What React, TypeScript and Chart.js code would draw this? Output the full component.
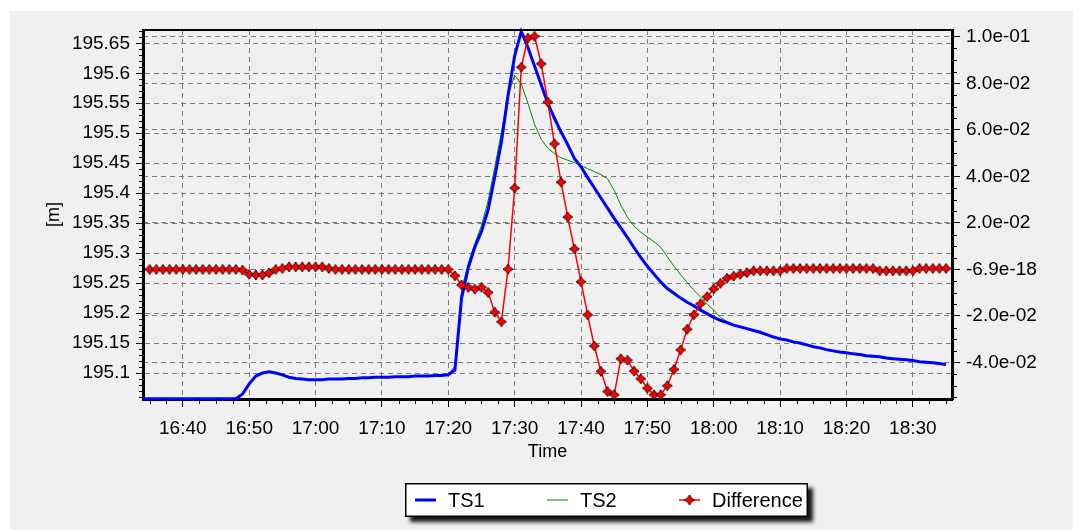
import React, { useEffect, useRef } from 'react';
import { Chart, registerables } from 'chart.js';

Chart.register(...registerables);

// x values are minutes after 16:00
const tsStartMinute = 34; // 16:34, one value per minute
const ts1Values = [
  195.057, 195.057, 195.057, 195.057, 195.057, 195.057, 195.057, 195.057, 195.057, 195.057,
  195.057, 195.057, 195.057, 195.057, 195.057, 195.065, 195.082, 195.095, 195.100, 195.102,
  195.100, 195.097, 195.093, 195.091, 195.090, 195.089, 195.089, 195.089, 195.090, 195.090,
  195.090, 195.091, 195.091, 195.092, 195.092, 195.093, 195.093, 195.093, 195.094, 195.094,
  195.094, 195.095, 195.095, 195.095, 195.096, 195.096, 195.097, 195.105, 195.225, 195.275,
  195.310, 195.336, 195.372, 195.427, 195.485, 195.563, 195.629, 195.670, 195.643, 195.612,
  195.581, 195.550, 195.525, 195.502, 195.481, 195.458, 195.444, 195.426, 195.409, 195.392,
  195.375, 195.358, 195.342, 195.326, 195.309, 195.293, 195.278, 195.265, 195.252, 195.241,
  195.233, 195.225, 195.218, 195.212, 195.205, 195.199, 195.193, 195.188, 195.184, 195.180,
  195.177, 195.174, 195.171, 195.168, 195.164, 195.160, 195.157, 195.155, 195.152, 195.150,
  195.147, 195.144, 195.142, 195.139, 195.137, 195.135, 195.134, 195.132, 195.131, 195.129,
  195.128, 195.127, 195.125, 195.124, 195.123, 195.122, 195.121, 195.119, 195.118, 195.117,
  195.116, 195.114,
];
const ts2Values = [
  195.057, 195.057, 195.057, 195.057, 195.057, 195.057, 195.057, 195.057, 195.057, 195.057,
  195.057, 195.057, 195.057, 195.057, 195.057, 195.066, 195.083, 195.096, 195.101, 195.102,
  195.100, 195.097, 195.093, 195.091, 195.090, 195.089, 195.089, 195.089, 195.090, 195.090,
  195.090, 195.091, 195.091, 195.092, 195.092, 195.093, 195.093, 195.093, 195.094, 195.094,
  195.094, 195.095, 195.095, 195.095, 195.096, 195.096, 195.097, 195.112, 195.238, 195.283,
  195.316, 195.346, 195.387, 195.443, 195.502, 195.562, 195.597, 195.582, 195.550, 195.515,
  195.490, 195.475, 195.466, 195.459, 195.455, 195.451, 195.446, 195.441, 195.436, 195.431,
  195.424, 195.405, 195.380, 195.360, 195.345, 195.335, 195.327, 195.319, 195.310, 195.294,
  195.278, 195.264, 195.251, 195.238, 195.227, 195.215, 195.205, 195.193, 195.186, 195.181,
  195.177, 195.173, 195.170, 195.167, 195.163, 195.159, 195.156, 195.154, 195.151, 195.149,
  195.146, 195.143, 195.141, 195.138, 195.136, 195.134, 195.133, 195.131, 195.130, 195.128,
  195.127, 195.126, 195.124, 195.123, 195.122, 195.121, 195.120, 195.118, 195.117, 195.116,
  195.115, 195.113,
];
const diffStartMinute = 35; // 16:35, one value per minute
const diffValues = [
  0, 0, 0, 0, 0, 0, 0, 0, 0, 0, 0, 0, 0, 0,
  -0.0003, -0.0021, -0.0024, -0.0024, -0.0015, 0.0, 0.0004, 0.0011, 0.0011, 0.0011,
  0.0011, 0.0011, 0.0011, 0.0004,
  0, 0, 0, 0, 0, 0, 0, 0, 0, 0, 0, 0, 0, 0, 0, 0, 0, 0,
  -0.0027, -0.0067, -0.0077, -0.0085, -0.0077, -0.0099, -0.0184, -0.0225, 0.0001, 0.035,
  0.0869, 0.0994, 0.1002, 0.0884, 0.0719, 0.054, 0.0375, 0.0225, 0.0088, -0.0053,
  -0.0195, -0.0329, -0.0438, -0.0525, -0.0539, -0.0384, -0.039, -0.0437, -0.047, -0.0511,
  -0.0539, -0.0539, -0.05, -0.043, -0.0346, -0.0257, -0.0195, -0.0148, -0.0117, -0.0084,
  -0.006, -0.0038, -0.0029, -0.0021, -0.0014,
  -0.0006, -0.0006, -0.0006, -0.0006, -0.0006,
  0.0004, 0.0004, 0.0004, 0.0004, 0.0004, 0.0004, 0.0004, 0.0004, 0.0004, 0.0004,
  0.0004, 0.0004, 0.0004, 0.0004,
  -0.0006, -0.0006, -0.0006, -0.0006, -0.0006, -0.0006,
  0.0004, 0.0004, 0.0004, 0.0004, 0.0004,
];

const xTickMinutes = [40, 50, 60, 70, 80, 90, 100, 110, 120, 130, 140, 150];
const xTickLabels = ['16:40', '16:50', '17:00', '17:10', '17:20', '17:30', '17:40', '17:50', '18:00', '18:10', '18:20', '18:30'];
const leftTickValues = [195.1, 195.15, 195.2, 195.25, 195.3, 195.35, 195.4, 195.45, 195.5, 195.55, 195.6, 195.65];
const leftTickLabels = ['195.1', '195.15', '195.2', '195.25', '195.3', '195.35', '195.4', '195.45', '195.5', '195.55', '195.6', '195.65'];
const rightTickValues = [-0.04, -0.02, 0, 0.02, 0.04, 0.06, 0.08, 0.1];
const rightTickLabels = ['-4.0e-02', '-2.0e-02', '-6.9e-18', '2.0e-02', '4.0e-02', '6.0e-02', '8.0e-02', '1.0e-01'];

const seriesLabels = ['TS1', 'TS2', 'Difference'];
const FONT = '"Liberation Sans", Arial, sans-serif';

function makeMarker(): HTMLCanvasElement {
  const c = document.createElement('canvas');
  c.width = 12;
  c.height = 12;
  const g = c.getContext('2d')!;
  const cx = 6, cy = 6, r = 5, k = 2.0;
  g.beginPath();
  g.moveTo(cx, cy - r);
  g.lineTo(cx + k, cy - k);
  g.lineTo(cx + r, cy);
  g.lineTo(cx + k, cy + k);
  g.lineTo(cx, cy + r);
  g.lineTo(cx - k, cy + k);
  g.lineTo(cx - r, cy);
  g.lineTo(cx - k, cy - k);
  g.closePath();
  g.fillStyle = '#ff0000';
  g.fill();
  g.strokeStyle = '#300000';
  g.lineWidth = 1;
  g.stroke();
  return c;
}

export default function App() {
  const ref = useRef<HTMLCanvasElement>(null);

  useEffect(() => {
    if (!ref.current) return;
    const marker = makeMarker();

    const ts1Points = ts1Values.map((v, i) => ({ x: tsStartMinute + i, y: v }));
    const ts2Points = ts2Values.map((v, i) => ({ x: tsStartMinute + i, y: v }));
    const diffPoints = diffValues.map((v, i) => ({ x: diffStartMinute + i, y: v }));

    const decorations = {
      id: 'decorations',
      afterDraw(chart: any) {
        const { ctx, chartArea: a, scales } = chart;
        ctx.save();
        ctx.strokeStyle = '#000';
        ctx.lineWidth = 1;
        ctx.setLineDash([]);
        ctx.beginPath();
        // minor ticks x (every 2.5 min)
        for (let m = 35; m < 156; m += 2.5) {
          if (m % 10 === 0) continue;
          const px = Math.round(scales.x.getPixelForValue(m)) + 0.5;
          ctx.moveTo(px, a.bottom);
          ctx.lineTo(px, a.bottom + 5);
        }
        // minor ticks left axis (every 0.01)
        for (let i = 0; i < 70; i++) {
          const v = 195.06 + i * 0.01;
          if (v > 195.672) break;
          if (Math.abs(Math.round(v * 20) - v * 20) < 1e-6) continue;
          const py = Math.round(scales.y.getPixelForValue(v)) + 0.5;
          ctx.moveTo(a.left - 4, py);
          ctx.lineTo(a.left, py);
        }
        // minor ticks right axis (every 0.005)
        for (let i = -11; i <= 20; i++) {
          if (i % 4 === 0) continue;
          const v = i * 0.005;
          const py = Math.round(scales.y2.getPixelForValue(v)) + 0.5;
          ctx.moveTo(a.right, py);
          ctx.lineTo(a.right + 5, py);
        }
        ctx.stroke();
        // top frame line
        ctx.lineWidth = 2;
        ctx.beginPath();
        ctx.moveTo(a.left - 1, a.top);
        ctx.lineTo(a.right + 1, a.top);
        ctx.stroke();
        ctx.restore();

        // legend
        const bx = 395, by = 472, bw = 403, bh = 34;
        ctx.save();
        ctx.shadowColor = 'rgba(0,0,0,0.9)';
        ctx.shadowBlur = 4;
        ctx.shadowOffsetX = 5;
        ctx.shadowOffsetY = 5;
        ctx.fillStyle = '#ffffff';
        ctx.fillRect(bx, by, bw, bh);
        ctx.restore();
        ctx.save();
        ctx.strokeStyle = '#000';
        ctx.lineWidth = 1.5;
        ctx.strokeRect(bx + 0.75, by + 0.75, bw - 1.5, bh - 1.5);
        const ly = by + bh / 2;
        const items = [
          { x0: 405, color: '#0000ff', width: 3, marker: false },
          { x0: 537, color: '#008800', width: 1, marker: false },
          { x0: 669, color: '#ff0000', width: 1.5, marker: true },
        ];
        items.forEach((it, i) => {
          ctx.strokeStyle = it.color;
          ctx.lineWidth = it.width;
          ctx.beginPath();
          ctx.moveTo(it.x0, ly);
          ctx.lineTo(it.x0 + 21, ly);
          ctx.stroke();
          if (it.marker) ctx.drawImage(marker, it.x0 + 10.5 - 6, ly - 6);
          ctx.fillStyle = '#000';
          ctx.font = `20px ${FONT}`;
          ctx.textBaseline = 'middle';
          ctx.textAlign = 'left';
          ctx.fillText(seriesLabels[i], it.x0 + 33, ly + 1);
        });
        ctx.restore();
      },
    };

    const gridCommon = {
      color: '#7c7c7c',
      lineWidth: 1,
      tickColor: '#000',
      tickWidth: 1,
      tickBorderDash: [],
    };
    const borderCommon = { display: true, color: '#000', width: 3, dash: [5, 4] };

    const chart = new Chart(ref.current, {
      type: 'line',
      data: {
        datasets: [
          {
            label: seriesLabels[2],
            data: diffPoints,
            yAxisID: 'y2',
            borderColor: '#ff0000',
            backgroundColor: '#ff0000',
            borderWidth: 1.5,
            pointStyle: marker as any,
            pointRadius: 5,
            order: 0,
            clip: 8,
          },
          {
            label: seriesLabels[0],
            data: ts1Points,
            yAxisID: 'y',
            borderColor: '#0000ff',
            borderWidth: 3,
            pointRadius: 0,
            order: 1,
            clip: 2,
          },
          {
            label: seriesLabels[1],
            data: ts2Points,
            yAxisID: 'y',
            borderColor: '#008800',
            borderWidth: 1,
            pointRadius: 0,
            order: 2,
            clip: 2,
          },
        ],
      } as any,
      options: {
        animation: false,
        responsive: false,
        events: [],
        layout: { padding: { top: 19, bottom: 65, left: 0, right: 0 } },
        font: { family: FONT, size: 18 },
        plugins: { legend: { display: false }, tooltip: { enabled: false } },
        scales: {
          x: {
            type: 'linear',
            min: 34,
            max: 155.9,
            afterBuildTicks: (s: any) => {
              s.ticks = xTickMinutes.map((v) => ({ value: v }));
            },
            afterFit: (s: any) => {
              s.height = 66;
            },
            ticks: {
              callback: (_v: any, i: number) => xTickLabels[i],
              color: '#000',
              font: { family: FONT, size: 19 },
              padding: 10,
              maxRotation: 0,
              autoSkip: false,
            },
            grid: { ...gridCommon, tickLength: 8 },
            border: borderCommon,
            title: {
              display: true,
              text: 'Time',
              color: '#000',
              font: { family: FONT, size: 18 },
              padding: { top: 0, bottom: 2 },
            },
          },
          y: {
            type: 'linear',
            position: 'left',
            min: 195.0567,
            max: 195.6722,
            afterBuildTicks: (s: any) => {
              s.ticks = leftTickValues.map((v) => ({ value: v }));
            },
            afterFit: (s: any) => {
              s.width = 133;
            },
            ticks: {
              callback: (_v: any, i: number) => leftTickLabels[i],
              color: '#000',
              font: { family: FONT, size: 19 },
              padding: 6,
              autoSkip: false,
            },
            grid: { ...gridCommon, tickLength: 7 },
            border: borderCommon,
            title: {
              display: true,
              text: '[m]',
              color: '#000',
              font: { family: FONT, size: 18 },
              padding: { top: 33, bottom: 0 },
            },
          },
          y2: {
            type: 'linear',
            position: 'right',
            min: -0.0557,
            max: 0.1029,
            afterBuildTicks: (s: any) => {
              s.ticks = rightTickValues.map((v) => ({ value: v }));
            },
            afterFit: (s: any) => {
              s.width = 121;
            },
            ticks: {
              callback: (_v: any, i: number) => rightTickLabels[i],
              color: '#000',
              font: { family: FONT, size: 19 },
              padding: 6,
              autoSkip: false,
            },
            grid: { ...gridCommon, tickLength: 8 },
            border: borderCommon,
          },
        },
      } as any,
      plugins: [decorations],
    });

    return () => chart.destroy();
  }, []);

  return (
    <div
      style={{
        position: 'fixed',
        left: 10,
        top: 11,
        width: 1063,
        height: 519,
        background: '#f0f0f0',
      }}
    >
      <canvas ref={ref} width={1063} height={519} style={{ display: 'block' }} />
    </div>
  );
}
